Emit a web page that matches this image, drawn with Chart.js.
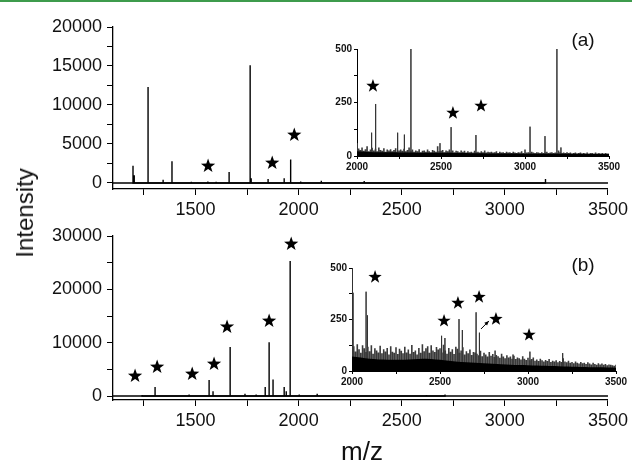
<!DOCTYPE html>
<html lang="en">
<head>
  <meta charset="UTF-8" />
  <title>MALDI spectra (a) and (b)</title>
  <script src="https://cdn.jsdelivr.net/npm/chart.js"></script>
  <style>
    body { margin: 0; background: #fff; font-family: 'Liberation Sans', Arial, sans-serif; }
    #page { position: relative; width: 632px; height: 468px; overflow: hidden; }
    .bar-top { position: absolute; left: 0; top: 0; width: 632px; height: 2px; background: #3d9b4c; }
    .box { position: absolute; }
    .lbl { position: absolute; color: #111; white-space: nowrap; }
  </style>
</head>
<body>
<div id="page">
  <div class="bar-top"></div>
  <div class="box" style="left:0;top:0;width:632px;height:230px"><canvas id="mainA" width="632" height="230"></canvas></div>
  <div class="box" style="left:0;top:215px;width:632px;height:235px"><canvas id="mainB" width="632" height="235"></canvas></div>
  <div class="box" style="left:300px;top:30px;width:332px;height:160px"><canvas id="insetA" width="332" height="160"></canvas></div>
  <div class="box" style="left:300px;top:250px;width:332px;height:160px"><canvas id="insetB" width="332" height="160"></canvas></div>
  <div class="lbl" style="left:25px;top:213px;font-size:24px;transform:translate(-50%,-50%) rotate(-90deg)">Intensity</div>
  <div class="lbl" style="left:362px;top:451px;font-size:26px;transform:translate(-50%,-50%)">m/z</div>
  <div class="lbl" style="left:583px;top:40px;font-size:19px;transform:translate(-50%,-50%)">(a)</div>
  <div class="lbl" style="left:583px;top:265px;font-size:19px;transform:translate(-50%,-50%)">(b)</div>
</div>

<script>
// ---- data ----
// panel (a), full range
const peaksA_mz  = [1197, 1203, 1270, 1343, 1386, 1480, 1560, 1600, 1663, 1765, 1770, 1852, 1930, 1959, 1963, 2010, 2110, 2318, 2700, 3197];
const peaksA_int = [2200, 1000, 12300, 400, 2800, 150, 200, 150, 1400, 15100, 600, 500, 600, 3000, 1100, 200, 300, 250, 100, 500];
const starsA_mz  = [1561, 1872, 1979];
const starsA_int = [2180, 2560, 6150];

// panel (b), full range
const peaksB_mz  = [1241, 1304, 1400, 1469, 1566, 1585, 1668, 1740, 1794, 1838, 1857, 1876, 1930, 1940, 1959, 2003, 2090, 2530, 2620, 2710];
const peaksB_int = [200, 1700, 150, 300, 3000, 900, 9200, 400, 300, 1700, 10100, 3100, 1700, 900, 25300, 300, 400, 150, 200, 300];
const starsB_mz  = [1207, 1314, 1484, 1590, 1653, 1857, 1964];
const starsB_int = [3750, 5440, 4130, 6000, 12950, 14070, 28500];

// inset (a), 2000-3500
const insetA_mz  = [2000, 2087, 2111, 2242, 2282, 2321, 2494, 2560, 2708, 3030, 3119, 3190, 3214];
const insetA_int = [60, 109, 243, 109, 100, 500, 60, 135, 98, 137, 93, 500, 40];
// grass every 10 m/z from 2000
const grassA = [
  60, 35, 28, 40, 25, 32, 45, 22, 30, 38,
  26, 34, 22, 40, 28, 24, 36, 20, 30, 26,
  32, 22, 28, 36, 20, 26, 30, 24, 34, 22,
  28, 40, 24, 30, 20, 26, 22, 32, 18, 24,
  26, 20, 30, 22, 18, 28, 24, 20, 45, 22,
  24, 28, 18, 26, 22, 30, 20, 26, 18, 24,
  22, 18, 26, 20, 24, 16, 22, 18, 20, 16,
  24, 18, 20, 16, 22, 18, 26, 16, 20, 18,
  20, 16, 18, 22, 14, 20, 16, 18, 14, 20,
  16, 18, 14, 20, 16, 14, 18, 16, 22, 14,
  30, 16, 18, 14, 20, 16, 14, 18, 16, 14,
  18, 14, 16, 20, 14, 16, 18, 14, 16, 14,
  26, 18, 14, 16, 14, 18, 14, 16, 12, 14,
  16, 12, 14, 16, 12, 14, 12, 16, 12, 14,
  14, 12, 16, 12, 14, 12, 14, 12, 14, 12,
  12];
// solid band every 100 m/z from 2000
const floorA = [22, 18, 18, 16, 15, 15, 14, 13, 12, 12, 11, 11, 10, 10, 9, 9];
const starsIA_mz  = [2095, 2571, 2738];
const starsIA_int = [327, 201, 234];

// inset (b), 2000-3500
const insetB_mz  = [2002, 2006, 2080, 2088, 2509, 2528, 2608, 2627, 2705, 2724, 2813, 2915, 3011, 3197];
const insetB_int = [500, 380, 385, 270, 171, 160, 252, 199, 285, 186, 99, 80, 94, 87];
const grassB = [
  140, 120, 95, 130, 105, 88, 125, 110, 92, 118,
  96, 125, 84, 110, 100, 90, 122, 86, 105, 95,
  112, 80, 120, 94, 88, 115, 82, 108, 98, 86,
  118, 90, 104, 84, 126, 92, 100, 80, 112, 88,
  130, 96, 110, 120, 88, 125, 100, 92, 116, 104,
  110, 90, 128, 100, 84, 112, 94, 106, 82, 118,
  108, 88, 100, 115, 80, 96, 86, 104, 78, 92,
  90, 84, 76, 98, 72, 88, 80, 70, 92, 74,
  82, 68, 78, 72, 64, 84, 70, 62, 76, 66,
  70, 60, 74, 58, 66, 62, 56, 72, 60, 54,
  64, 52, 58, 66, 50, 56, 48, 60, 52, 46,
  54, 48, 58, 44, 50, 46, 52, 42, 48, 44,
  62, 46, 42, 50, 40, 44, 38, 46, 40, 36,
  44, 38, 40, 34, 42, 36, 32, 40, 34, 30,
  38, 32, 36, 30, 34, 28, 32, 30, 28, 26,
  30];
const floorB = [70, 60, 55, 55, 60, 55, 45, 40, 35, 30, 28, 25, 22, 20, 18, 16];
const starsIB_mz  = [2131, 2523, 2602, 2722, 2818, 3006];
const starsIB_int = [456, 243, 330, 359, 252, 175];
const arrowIB = { from: [2733, 204], to: [2778, 243] };

const grassStep = 10;
const floorStep = 100;

// ---- helpers ----
function sticks(mz, inten) {
  const pts = [];
  mz.forEach((m, i) => {
    pts.push({ x: m, y: 0 }, { x: m, y: inten[i] }, { x: m, y: 0 });
  });
  return pts;
}

function drawStar(ctx, cx, cy, r) {
  ctx.beginPath();
  for (let k = 0; k < 10; k++) {
    const rad = k % 2 === 0 ? r : r * 0.4;
    const a = -Math.PI / 2 + k * Math.PI / 5;
    const px = cx + rad * Math.cos(a), py = cy + rad * Math.sin(a);
    k === 0 ? ctx.moveTo(px, py) : ctx.lineTo(px, py);
  }
  ctx.closePath();
  ctx.fill();
}

const starPlugin = {
  id: 'stars',
  afterDatasetsDraw(chart, args, opts) {
    const { ctx, scales: { x, y } } = chart;
    ctx.save();
    ctx.fillStyle = '#000';
    (opts.mz || []).forEach((m, i) => {
      drawStar(ctx, x.getPixelForValue(m), y.getPixelForValue(opts.int[i]), opts.r || 7);
    });
    if (opts.arrow) {
      const x0 = x.getPixelForValue(opts.arrow.from[0]), y0 = y.getPixelForValue(opts.arrow.from[1]);
      const x1 = x.getPixelForValue(opts.arrow.to[0]), y1 = y.getPixelForValue(opts.arrow.to[1]);
      ctx.strokeStyle = '#000';
      ctx.lineWidth = 1;
      ctx.beginPath(); ctx.moveTo(x0, y0); ctx.lineTo(x1, y1); ctx.stroke();
      const ang = Math.atan2(y1 - y0, x1 - x0);
      ctx.beginPath();
      ctx.moveTo(x1, y1);
      ctx.lineTo(x1 - 5 * Math.cos(ang - 0.4), y1 - 5 * Math.sin(ang - 0.4));
      ctx.lineTo(x1 - 5 * Math.cos(ang + 0.4), y1 - 5 * Math.sin(ang + 0.4));
      ctx.closePath(); ctx.fill();
    }
    ctx.restore();
  }
};
Chart.register(starPlugin);

function tickSet(values, majorStep) {
  return function (scale) {
    scale.ticks = values.map(v => ({ value: v, major: v % majorStep === 0 }));
  };
}

function axisOpts(o) {
  return {
    type: 'linear',
    min: o.min, max: o.max,
    afterBuildTicks: tickSet(o.ticks, o.major),
    afterFit: s => { if (o.width) s.width = o.width; if (o.height) s.height = o.height; },
    border: { display: true, color: '#000', width: o.bw || 1.3 },
    grid: { display: true, drawOnChartArea: false, tickLength: o.tl, tickColor: '#000', tickWidth: 1 },
    ticks: {
      autoSkip: false, maxRotation: 0, padding: o.pad,
      color: '#111',
      font: { family: "'Liberation Sans', Arial, sans-serif", size: o.fs, weight: o.bold ? 'bold' : 'normal' },
      callback: v => (v % o.major === 0 ? String(v) : '')
    }
  };
}

const mzTicks = [1250, 1500, 1750, 2000, 2250, 2500, 2750, 3000, 3250, 3500];
const insetMzTicks = [2000, 2250, 2500, 2750, 3000, 3250, 3500];

function mainChart(id, mz, inten, sMz, sInt, yMin, yMax, yTicks, yMajor, padTop, xHeight) {
  return new Chart(document.getElementById(id), {
    type: 'line',
    data: { datasets: [{
      data: sticks(mz, inten),
      borderColor: '#000', borderWidth: 1.4, pointRadius: 0, tension: 0
    }, {
      data: [{ x: 1100, y: 0 }, { x: 3500, y: 0 }],
      borderColor: '#000', borderWidth: 1.6, pointRadius: 0
    }] },
    options: {
      responsive: false, animation: false, events: [],
      layout: { padding: { left: 0, right: 23, top: padTop, bottom: 0 } },
      plugins: { legend: { display: false }, tooltip: { enabled: false },
                 stars: { mz: sMz, int: sInt, r: 7.5 } },
      scales: {
        x: axisOpts({ min: 1100, max: 3500, ticks: mzTicks, major: 500, tl: 6, pad: 4, fs: 18, height: xHeight }),
        y: axisOpts({ min: yMin, max: yMax, ticks: yTicks, major: yMajor, tl: 6, pad: 5, fs: 18, width: 113 })
      }
    }
  });
}

mainChart('mainA', peaksA_mz, peaksA_int, starsA_mz, starsA_int, -770, 20000,
  [0, 2500, 5000, 7500, 10000, 12500, 15000, 17500, 20000], 5000, 27, 41);
mainChart('mainB', peaksB_mz, peaksB_int, starsB_mz, starsB_int, -750, 30000,
  [0, 5000, 10000, 15000, 20000, 25000, 30000], 10000, 21, 50);

function insetChart(id, mz, inten, grass, floor, sMz, sInt, arrow, pad, xHeight, yWidth) {
  const grassMz = grass.map((v, i) => 2000 + i * grassStep);
  const floorPts = floor.map((v, i) => ({ x: 2000 + i * floorStep, y: v }));
  return new Chart(document.getElementById(id), {
    type: 'line',
    data: { datasets: [{
      data: floorPts, fill: 'origin', backgroundColor: '#000',
      borderColor: '#000', borderWidth: 0, pointRadius: 0, tension: 0.3
    }, {
      data: sticks(grassMz, grass),
      borderColor: '#3a3a3a', borderWidth: 1.6, pointRadius: 0, tension: 0
    }, {
      data: sticks(mz, inten),
      borderColor: '#333', borderWidth: 1, pointRadius: 0, tension: 0
    }] },
    options: {
      responsive: false, animation: false, events: [],
      layout: { padding: pad },
      plugins: { legend: { display: false }, tooltip: { enabled: false },
                 stars: { mz: sMz, int: sInt, r: 7, arrow: arrow } },
      scales: {
        x: axisOpts({ min: 2000, max: 3500, ticks: insetMzTicks, major: 500, tl: 3, pad: 2, fs: 10, bold: true, height: xHeight, bw: 1 }),
        y: axisOpts({ min: 0, max: 500, ticks: [0, 125, 250, 375, 500], major: 250, tl: 3, pad: 2, fs: 10, bold: true, width: yWidth, bw: 1 })
      }
    }
  });
}

insetChart('insetA', insetA_mz, insetA_int, grassA, floorA, starsIA_mz, starsIA_int, null,
  { left: 0, right: 23, top: 19, bottom: 0 }, 34, 57);
insetChart('insetB', insetB_mz, insetB_int, grassB, floorB, starsIB_mz, starsIB_int, arrowIB,
  { left: 0, right: 16, top: 18, bottom: 0 }, 39, 52);
</script>
</body>
</html>
